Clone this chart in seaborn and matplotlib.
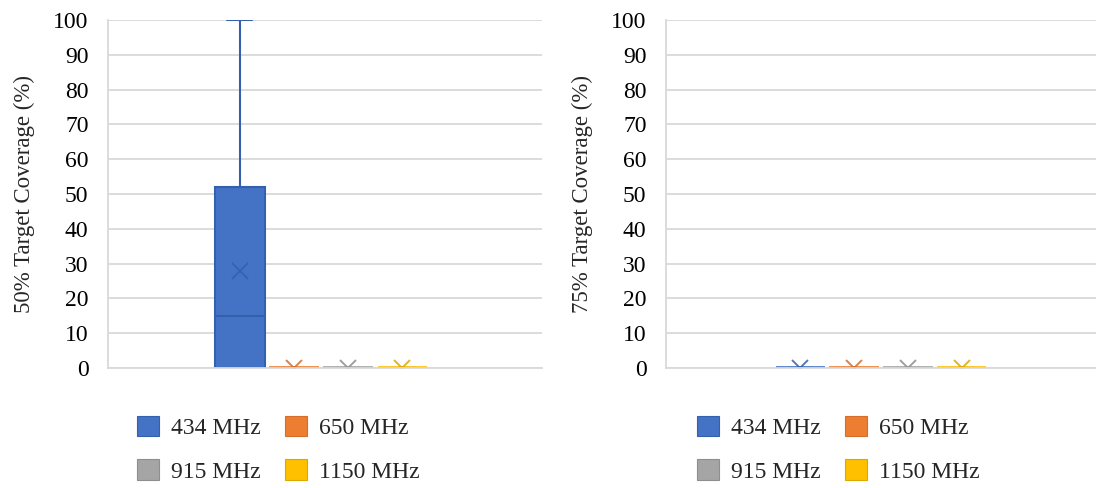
import numpy as np
import pandas as pd
import matplotlib
matplotlib.use("Agg")
import matplotlib.pyplot as plt
from matplotlib.patches import Patch
import matplotlib.colors as mcolors
import seaborn as sns

# Frequencies compared in both panels
freqs = ["434 MHz", "650 MHz", "915 MHz", "1150 MHz"]
fill_colors = ["#4472C4", "#ED7D31", "#A5A5A5", "#FFC000"]
line_colors = ["#3560AE", "#D46E2C", "#8E8E8E", "#DDA800"]

# Coverage samples per frequency (percent of target covered)
cov50_434 = [0, 0, 0, 5, 15, 28, 52, 52, 100]
cov50_650 = [0, 0, 0, 0, 0]
cov50_915 = [0, 0, 0, 0, 0]
cov50_1150 = [0, 0, 0, 0, 0]

cov75_434 = [0, 0, 0, 0, 0]
cov75_650 = [0, 0, 0, 0, 0]
cov75_915 = [0, 0, 0, 0, 0]
cov75_1150 = [0, 0, 0, 0, 0]

y_ticks = list(range(0, 101, 10))


def to_frame(series):
    rows = []
    for f, vals in zip(freqs, series):
        for v in vals:
            rows.append({"grp": "all", "freq": f, "val": v})
    return pd.DataFrame(rows)


df50 = to_frame([cov50_434, cov50_650, cov50_915, cov50_1150])
df75 = to_frame([cov75_434, cov75_650, cov75_915, cov75_1150])

sns.set_theme(style="white")
plt.rcParams["font.family"] = ["Liberation Serif", "DejaVu Serif"]

fig = plt.figure(figsize=(10.96, 4.88), dpi=100)
W, H = 1096, 488
axL = fig.add_axes([108 / W, 1 - 368 / H, 434 / W, 348 / H])
axR = fig.add_axes([666 / W, 1 - 368 / H, 430 / W, 348 / H])

GROUP_W = 0.5
slot = GROUP_W / len(freqs)
centers = [-GROUP_W / 2 + slot * (i + 0.5) for i in range(len(freqs))]


def nearest_idx(x):
    return int(np.argmin([abs(x - c) for c in centers]))


def draw_panel(ax, df, ylabel, xshift):
    sns.boxplot(
        data=df, x="grp", y="val", hue="freq", hue_order=freqs,
        palette=dict(zip(freqs, fill_colors)), width=GROUP_W, gap=0.08,
        linecolor="#333333", linewidth=1.5, whis=3.0, saturation=1,
        showmeans=True, showfliers=False, legend=False,
        meanprops=dict(marker="x", markersize=11, markeredgewidth=1.4),
        ax=ax,
    )
    # colour each box's outline, whiskers, median and mean by its frequency
    fills_lower = [c.lower() for c in fill_colors]
    for p in ax.patches:
        fc = mcolors.to_hex(p.get_facecolor()).lower()
        if fc in fills_lower:
            i = fills_lower.index(fc)
            p.set_edgecolor(line_colors[i])
            verts = p.get_path().vertices
            if np.ptp(verts[:, 1]) < 1e-9:
                p.set_linewidth(2.6)
                p.set_edgecolor(fill_colors[i])
    for ln in ax.lines:
        xd = np.asarray(ln.get_xdata(), dtype=float)
        if xd.size == 0:
            continue
        i = nearest_idx(float(np.mean(xd)))
        ln.set_color(line_colors[i])
        ln.set_markeredgecolor(line_colors[i])
        ln.set_clip_on(True)
        if ln.get_marker() == "x":
            ln.set_alpha(0.85)
    ax.set_xlim(-0.5 - xshift, 0.5 - xshift)
    ax.set_ylim(0, 100)
    ax.set_yticks(y_ticks)
    ax.set_xticks([])
    ax.set_xlabel("")
    ax.set_ylabel(ylabel, fontsize=16.5, color="#262626", labelpad=13)
    ax.tick_params(axis="y", labelsize=17, colors="#000000", length=0, pad=14)
    ax.grid(axis="y", color="#D9D9D9", linewidth=1.3)
    ax.set_axisbelow(True)
    for side in ["top", "right"]:
        ax.spines[side].set_visible(False)
    for side in ["left", "bottom"]:
        ax.spines[side].set_color("#D9D9D9")
        ax.spines[side].set_linewidth(1.3)


draw_panel(axL, df50, "50% Target Coverage (%)", -0.009)
draw_panel(axR, df75, "75% Target Coverage (%)", 0.0)

# two rows: 434/650 on top, 915/1150 below (legend fills column-wise)
order = [0, 2, 1, 3]
handles = [Patch(facecolor=fill_colors[i], edgecolor=line_colors[i], linewidth=0.8) for i in order]
labels = [freqs[i] for i in order]
for x0 in (137, 697):
    fig.legend(
        handles, labels, loc="upper left",
        bbox_to_anchor=(x0 / W, 1 - 416 / H), ncol=2, frameon=False,
        fontsize=17, handlelength=0.95, handleheight=0.95,
        handletextpad=0.5, columnspacing=1.0, labelspacing=0.85,
        borderpad=0.0, borderaxespad=0.0,
    )

fig.savefig("out.png", dpi=100)
